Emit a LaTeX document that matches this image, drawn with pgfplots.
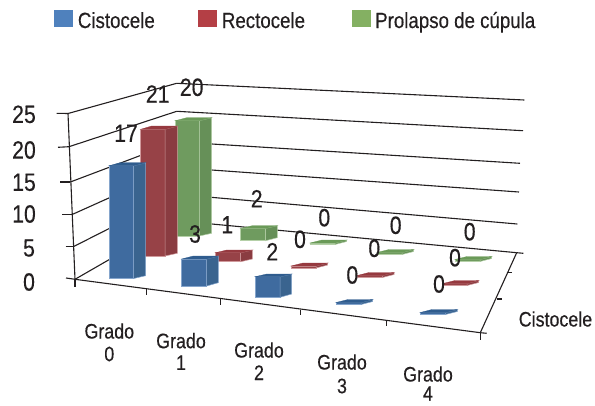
\documentclass[border=0pt]{standalone}
\usepackage{pgfplots}
\pgfplotsset{compat=1.18}
\usepackage{fontspec}
\setmainfont[FakeStretch=0.85,FakeBold=0.35]{Liberation Sans}
\definecolor{tx}{HTML}{231F20}
\definecolor{bF}{HTML}{3F6B9F}\definecolor{bS}{HTML}{3A648F}\definecolor{bT}{HTML}{2F5C8E}\definecolor{bE}{HTML}{85A5CC}
\definecolor{rF}{HTML}{974247}\definecolor{rS}{HTML}{8A3C41}\definecolor{rT}{HTML}{96393F}\definecolor{rE}{HTML}{D09A9C}
\definecolor{gF}{HTML}{6F9B5F}\definecolor{gS}{HTML}{669058}\definecolor{gT}{HTML}{6A9A58}\definecolor{gE}{HTML}{B5D0A8}
% #1 colour prefix; #2 front-left x; #3 front-right x; #4 side-right x; #5 back-left x;
% #6 front top y; #7 front bottom y; #8 back top y; #9 back bottom y
\newcommand\bbar[9]{%
  \addplot[fill=#1F,draw=#1E,line width=0.5pt] coordinates {(#2,#6)(#3,#6)(#3,#7)(#2,#7)} -- cycle;
  \addplot[fill=#1S,draw=#1E,line width=0.5pt] coordinates {(#3,#6)(#4,#8)(#4,#9)(#3,#7)} -- cycle;
  \addplot[fill=#1T,draw=#1T,line width=0.3pt] coordinates {(#2,#6)(#5,#8)(#4,#8)(#3,#6)} -- cycle;
}
\newcommand\gl[4]{\draw[tx,line width=1.1pt] (axis cs:#1,#2) -- (axis cs:#3,#4);}
\newcommand\lab[3]{\node[tx,anchor=center,inner sep=0pt,font=\fontsize{25}{25}\selectfont] at (axis cs:#1,#2) {#3};}
\newcommand\catl[4]{\node[tx,anchor=center,inner sep=0pt,font=\fontsize{21}{21}\selectfont] at (axis cs:#1,#2) {Grado}; \node[tx,anchor=center,inner sep=0pt,font=\fontsize{21}{21}\selectfont] at (axis cs:#1,#3) {#4};}
\begin{document}
\begin{tikzpicture}
\begin{axis}[
  width=595pt,height=405pt,scale only axis,
  xmin=0,xmax=595,ymin=0,ymax=405,y dir=reverse,
  hide axis,clip=false]
% invisible frame: fixes the picture's extent
\path (axis cs:0,0) rectangle (axis cs:595,405);
% walls: 25,20,15,10,5,0 on left wall and back wall
\gl{56.7}{113.3}{68}{113.5}\gl{68}{113.5}{176.7}{83.3}\gl{176.7}{83.3}{524.3}{100}
\gl{58}{147.3}{69}{146.7}\gl{69}{146.7}{176.7}{111.3}\gl{176.7}{111.3}{523}{130.7}
\gl{60}{182}{70.3}{182}\gl{70.3}{182}{176.7}{141.8}\gl{176.7}{141.8}{520}{163.3}
\gl{62.3}{214.7}{71.7}{214.7}\gl{71.7}{214.7}{176.7}{167.5}\gl{176.7}{167.5}{519}{192}
\gl{65.7}{246.7}{73.3}{246.7}\gl{73.3}{246.7}{176.7}{194.3}\gl{176.7}{194.3}{517.3}{224}
\gl{66}{278}{75}{279.3}\gl{75}{279.3}{176.7}{220.7}\gl{176.7}{220.7}{516.7}{252.7}
\gl{68}{113.5}{75}{279.3}
% floor edges and ticks
\gl{75}{279.3}{480.3}{332.7}
\gl{480.3}{332.7}{516.7}{252.7}
\gl{516.7}{252.7}{523.3}{253.3}
\gl{506.7}{272.7}{512.3}{272.7}
\gl{496.7}{299}{501.7}{299}
\gl{480.3}{332.7}{486.7}{333.3}
\gl{75}{279.3}{75}{286.7}
\gl{146.7}{289}{146.7}{295}
\gl{220.7}{299}{220.7}{305}
\gl{300.7}{309.5}{300.7}{315}
\gl{386.7}{321}{386.7}{326}
\gl{480.3}{332.7}{480.3}{340}
% bars, back row first (values: Prolapso 20,2,0,0,0; Rectocele 21,1,0,0,0; Cistocele 17,3,2,0,0)
\bbar{g}{175.3}{199.3}{211.7}{186.7}{120.7}{236}{117.7}{233.3}
\bbar{g}{240.7}{265.7}{277.3}{252.3}{228.3}{240.7}{225.7}{237.7}
\bbar{g}{310}{335}{346.7}{322}{243}{244.5}{240}{241.5}
\bbar{g}{377}{402}{413.7}{389}{252.5}{254.5}{249.5}{251.5}
\bbar{g}{455}{480}{491.7}{467}{259.5}{261.5}{256.5}{258.5}
\bbar{r}{140.7}{165}{177.3}{151.7}{129.3}{256}{126}{253.3}
\bbar{r}{215.7}{240.7}{252.3}{226.7}{252.7}{261.7}{250}{259}
\bbar{r}{291}{316}{327.7}{303}{266}{268}{263}{265}
\bbar{r}{357.3}{382.3}{394}{369}{275.5}{277.5}{272.5}{274.5}
\bbar{r}{443}{467}{478.7}{455}{283.5}{285.5}{280.5}{282.5}
\bbar{b}{109.3}{133.7}{145.7}{120}{165.7}{278.5}{162.7}{275.7}
\bbar{b}{181.7}{206.7}{218.3}{193.3}{259}{286}{256}{282.7}
\bbar{b}{255.3}{280}{291.7}{266.7}{276.7}{297.3}{274}{294}
\bbar{b}{336}{361}{372.7}{348}{302.5}{304.5}{299.5}{301.5}
\bbar{b}{420.3}{445.3}{457.3}{432}{312.5}{314.5}{309.5}{311.5}
% value labels
\lab{126}{133.3}{17}\lab{157.7}{94}{21}\lab{191.7}{87.3}{20}
\lab{195}{234}{3}\lab{227.3}{224.7}{1}\lab{256.7}{198.7}{2}\lab{272.3}{251.7}{2}
\lab{324.3}{217.7}{0}\lab{300}{239.3}{0}
\lab{395.7}{225.3}{0}\lab{374.3}{248.3}{0}\lab{352.3}{275}{0}
\lab{469.7}{231.7}{0}\lab{455}{257.7}{0}\lab{439}{284}{0}
% z axis labels
\lab{24}{114.3}{25}\lab{24}{150}{20}\lab{24}{182.3}{15}\lab{24}{214}{10}\lab{29}{248}{5}\lab{29}{282}{0}
% category labels
\catl{109.3}{331}{354}{0}\catl{181}{340.7}{362.7}{1}\catl{259}{350}{372.7}{2}\catl{342}{362}{386}{3}\catl{428}{374}{393.5}{4}
\node[tx,anchor=center,inner sep=0pt,font=\fontsize{21}{21}\selectfont] at (axis cs:555.5,319) {Cistocele};
% legend
\fill[fill={rgb,255:red,79;green,129;blue,189}] (axis cs:54,10) rectangle (axis cs:73,26.7);
\fill[fill={rgb,255:red,180;green,63;blue,69}] (axis cs:198,10) rectangle (axis cs:217,26.7);
\fill[fill={rgb,255:red,132;green,176;blue,98}] (axis cs:352,10) rectangle (axis cs:371,26.7);
\node[tx,anchor=base west,inner sep=0pt,font=\fontsize{22}{22}\selectfont] at (axis cs:77.7,28) {Cistocele};
\node[tx,anchor=base west,inner sep=0pt,font=\fontsize{22}{22}\selectfont] at (axis cs:221.7,28) {Rectocele};
\node[tx,anchor=base west,inner sep=0pt,font=\fontsize{22}{22}\selectfont] at (axis cs:375,28) {Prolapso de cúpula};
\end{axis}
\end{tikzpicture}
\end{document}
